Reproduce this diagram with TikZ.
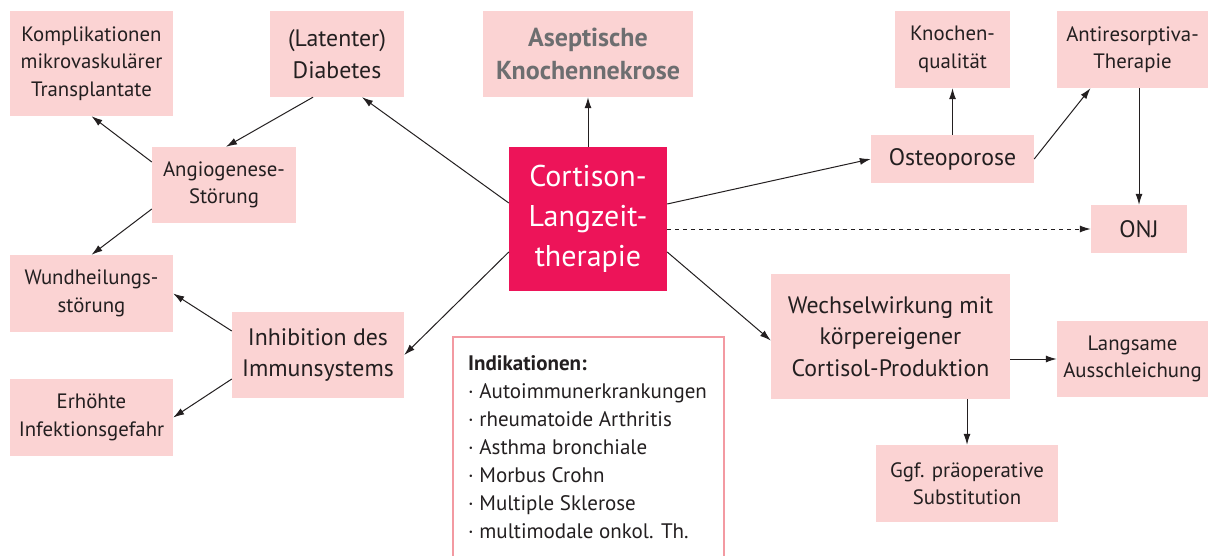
\documentclass[tikz,border=0pt]{standalone}
\usepackage{fontspec}
\setmainfont{PT Sans}
\usetikzlibrary{arrows.meta,calc}
\definecolor{boxpink}{HTML}{FBD3D3}
\definecolor{cortred}{HTML}{ED1459}
\definecolor{txt}{HTML}{231F20}
\definecolor{gtxt}{HTML}{6D6E70}
\definecolor{indborder}{HTML}{F39AA2}
\begin{document}
\begin{tikzpicture}[x=1pt,y=-1pt,
  box/.style={fill=boxpink, draw=none, inner sep=0pt, align=center, text=txt},
  sm/.style={font=\fontsize{20.8}{27.5}\selectfont},
  md/.style={font=\fontsize{23.8}{31.5}\selectfont},
  arr/.style={-{Latex[length=11pt,width=7pt]}, line width=1pt, draw=txt},
]
\useasboundingbox (0,0) rectangle (1209,556);
\clip (0,0) rectangle (1209,556);
\fill[white] (0,0) rectangle (1209,556);

\node[box, sm, minimum width=163pt, minimum height=105pt] (kompl) at (91.5,63.5) {Komplikationen\\mikrovaskulärer\\Transplantate};
\node[box, md, minimum width=134pt, minimum height=86pt] (diab) at (337,54) {(Latenter)\\Diabetes};
\node[box, sm, minimum width=144pt, minimum height=76pt] (angio) at (224,185) {Angiogenese-\\Störung};
\node[box, sm, minimum width=163pt, minimum height=77pt] (wund) at (91.5,293.5) {Wundheilungs-\\störung};
\node[box, md, minimum width=172pt, minimum height=86pt] (inhib) at (318,355) {Inhibition des\\Immunsystems};
\node[box, sm, minimum width=163pt, minimum height=77pt] (erh) at (91.5,417.5) {Erhöhte\\Infektionsgefahr};
\node[box, text=gtxt, font=\fontsize{26}{33}\selectfont\bfseries, minimum width=210pt, minimum height=86pt] (asept) at (588,54) {Aseptische\\Knochennekrose};
\node[box, fill=cortred, text=white, font=\fontsize{30}{40}\selectfont, minimum width=158pt, minimum height=144pt] (cort) at (588,219) {Cortison-\\Langzeit-\\therapie};
\node[box, sm, minimum width=115pt, minimum height=77pt] (knoch) at (952.5,49.5) {Knochen-\\qualität};
\node[box, sm, minimum width=151pt, minimum height=77pt] (anti) at (1132.5,49.5) {Antiresorptiva-\\Therapie};
\node[box, md, minimum width=163pt, minimum height=48pt] (osteo) at (952.5,159) {Osteoporose};
\node[box, md, minimum width=96pt, minimum height=48pt] (onj) at (1139,229) {ONJ};
\node[box, md, minimum width=239pt, minimum height=125pt] (wechsel) at (890.5,336.5) {Wechselwirkung mit\\körpereigener\\Cortisol-Produktion};
\node[box, sm, minimum width=151pt, minimum height=76pt] (langs) at (1132.5,359) {Langsame\\Ausschleichung};
\node[box, sm, minimum width=182pt, minimum height=77pt] (ggf) at (967,483.5) {Ggf. präoperative\\Substitution};

\node[draw=indborder, line width=2pt, fill=white, inner sep=0pt, minimum width=271pt, minimum height=260pt, anchor=north west] (indik) at (452,336) {};
\node[anchor=north west, align=left, text=txt, inner sep=0pt, font=\fontsize{21}{28}\selectfont] (indtxt) at (468,355) {\textbf{Indikationen:}\\· Autoimmunerkrankungen\\· rheumatoide Arthritis\\· Asthma bronchiale\\· Morbus Crohn\\· Multiple Sklerose\\· multimodale onkol. Th.};

\draw[arr] ([yshift=16pt]cort.west) -- ([xshift=25pt]diab.south);
\draw[arr] ([xshift=-24pt]diab.south) -- ([xshift=2pt]angio.north);
\draw[arr] ([yshift=23pt]angio.west) -- (kompl.south);
\draw[arr] ([yshift=-24pt]angio.west) -- (wund.north);
\draw[arr] ([yshift=-33pt]cort.west) -- (inhib.east);
\draw[arr] ([yshift=24pt]inhib.west) -- (wund.east);
\draw[arr] ([yshift=-24pt]inhib.west) -- (erh.east);
\draw[arr] (cort.north) -- (asept.south);
\draw[arr] ([yshift=15pt]cort.east) -- (osteo.west);
\draw[arr] (osteo.north) -- (knoch.south);
\draw[arr] (osteo.east) -- ([xshift=-42pt]anti.south);
\draw[arr] (anti.south -| onj.north) -- (onj.north);
\draw[arr, dashed, dash pattern=on 4pt off 4pt] (cort.east |- onj.west) -- (onj.west);
\draw[arr] ([yshift=-33pt]cort.east) -- ([yshift=-4pt]wechsel.west);
\draw[arr] (wechsel.east |- langs.west) -- (langs.west);
\draw[arr] (ggf.north |- wechsel.south) -- (ggf.north);
\end{tikzpicture}
\end{document}
